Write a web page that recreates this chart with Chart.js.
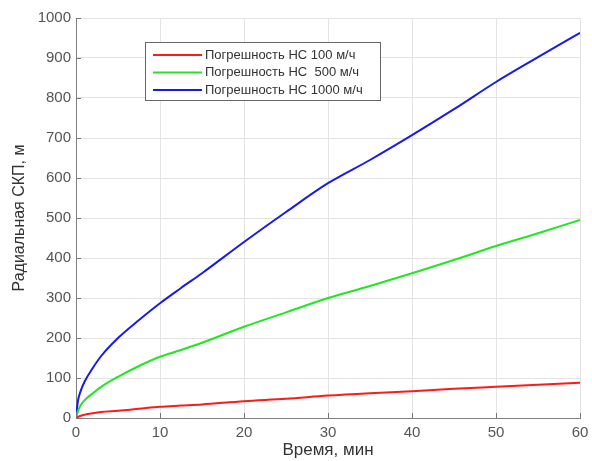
<!DOCTYPE html>
<html lang="ru">
<head>
    <meta charset="UTF-8">
    <title>Радиальная СКП</title>
    <script src="https://cdn.jsdelivr.net/npm/chart.js"></script>
    <style>
        html, body { margin: 0; padding: 0; background: #fff; }
        #wrap { width: 592px; height: 461px; }
    </style>
</head>
<body>
    <div id="wrap"><canvas id="chart" width="592" height="461"></canvas></div>
    <script>
        // Time, minutes
        const times = [0, 0.25, 0.5, 1, 2, 3, 5, 7.5, 10, 12.5, 15, 20, 25, 30, 35, 40, 45, 50, 55, 60];
        // Radial RMS error, m
        const err100  = [0, 3, 5, 8, 12, 15, 18, 23, 28, 31, 34, 42, 48, 56, 62, 67, 73, 78, 83, 88];
        const err500  = [0, 18, 30, 44, 62, 78, 103, 130, 153, 170, 188, 228, 264, 300, 330, 362, 395, 430, 462, 495];
        const err1000 = [0, 45, 64, 90, 125, 155, 200, 245, 287, 325, 362, 440, 515, 587, 645, 707, 772, 840, 902, 963];
        const seriesLabels = ['Погрешность НС 100 м/ч', 'Погрешность НС  500 м/ч', 'Погрешность НС 1000 м/ч'];
        const seriesColors = ['#ff1a1a', '#22e622', '#1a1ae6'];
        const yTicks = [0, 100, 200, 300, 400, 500, 600, 700, 800, 900, 1000];
        const xTicks = [0, 10, 20, 30, 40, 50, 60];

        const toPoints = vals => times.map((t, i) => ({ x: t, y: vals[i] }));

        // MATLAB-style legend box and inward ticks
        const extras = {
            id: 'extras',
            afterDraw(chart) {
                const ctx = chart.ctx;
                const xs = chart.scales.x, ys = chart.scales.y;
                const a = chart.chartArea;
                ctx.save();
                ctx.strokeStyle = '#777';
                ctx.lineWidth = 1;
                ctx.beginPath();
                xTicks.forEach(v => {
                    const px = Math.round(xs.getPixelForValue(v)) + 0.5;
                    ctx.moveTo(px, a.bottom); ctx.lineTo(px, a.bottom - 5);
                });
                yTicks.forEach(v => {
                    const py = Math.round(ys.getPixelForValue(v)) + 0.5;
                    ctx.moveTo(a.left, py); ctx.lineTo(a.left + 5, py);
                });
                ctx.stroke();

                // legend
                const bx = 145.5, by = 42.5, bw = 235, bh = 58;
                ctx.fillStyle = '#fff';
                ctx.fillRect(bx, by, bw, bh);
                ctx.strokeStyle = '#666';
                ctx.strokeRect(bx, by, bw, bh);
                ctx.font = '13px "Liberation Sans", Arial, sans-serif';
                ctx.textBaseline = 'middle';
                chart.data.datasets.forEach((ds, i) => {
                    const ry = 55 + i * 17.5;
                    ctx.strokeStyle = ds.borderColor;
                    ctx.lineWidth = 2;
                    ctx.beginPath();
                    ctx.moveTo(153, ry); ctx.lineTo(202, ry);
                    ctx.stroke();
                    ctx.fillStyle = '#333';
                    ctx.fillText(ds.label, 205, ry);
                });
                ctx.restore();
            }
        };

        new Chart(document.getElementById('chart'), {
            type: 'line',
            data: {
                datasets: [err100, err500, err1000].map((vals, i) => ({
                    label: seriesLabels[i],
                    data: toPoints(vals),
                    borderColor: seriesColors[i],
                    borderWidth: 2,
                    pointRadius: 0,
                    cubicInterpolationMode: 'monotone',
                    fill: false
                }))
            },
            options: {
                responsive: false,
                animation: false,
                layout: { padding: { top: 18, right: 12, left: 0, bottom: 0 } },
                plugins: {
                    legend: { display: false },
                    tooltip: { enabled: false }
                },
                scales: {
                    x: {
                        type: 'linear',
                        min: 0, max: 60,
                        afterBuildTicks: s => { s.ticks = xTicks.map(v => ({ value: v })); },
                        afterFit: s => { s.height = 43; s.paddingRight = 0; s.paddingLeft = 0; },
                        grid: { color: '#e3e3e3', tickLength: 0, drawTicks: false },
                        border: { color: '#808080', width: 1 },
                        ticks: {
                            color: '#555',
                            padding: 6,
                            font: { family: '"Liberation Sans", Arial, sans-serif', size: 15 }
                        },
                        title: {
                            display: true,
                            text: 'Время, мин',
                            color: '#333',
                            padding: { top: 0, bottom: 0 },
                            font: { family: '"Liberation Sans", Arial, sans-serif', size: 17 }
                        }
                    },
                    y: {
                        min: 0, max: 1000,
                        afterBuildTicks: s => { s.ticks = yTicks.map(v => ({ value: v })); },
                        afterFit: s => { s.width = 76; },
                        grid: { color: '#e3e3e3', tickLength: 0, drawTicks: false },
                        border: { color: '#808080', width: 1 },
                        ticks: {
                            color: '#555',
                            padding: 5,
                            callback: v => String(v),
                            font: { family: '"Liberation Sans", Arial, sans-serif', size: 15 }
                        },
                        title: {
                            display: true,
                            text: 'Радиальная СКП, м',
                            color: '#333',
                            padding: { top: 10, bottom: 0 },
                            font: { family: '"Liberation Sans", Arial, sans-serif', size: 16 }
                        }
                    }
                }
            },
            plugins: [extras]
        });
    </script>
</body>
</html>
